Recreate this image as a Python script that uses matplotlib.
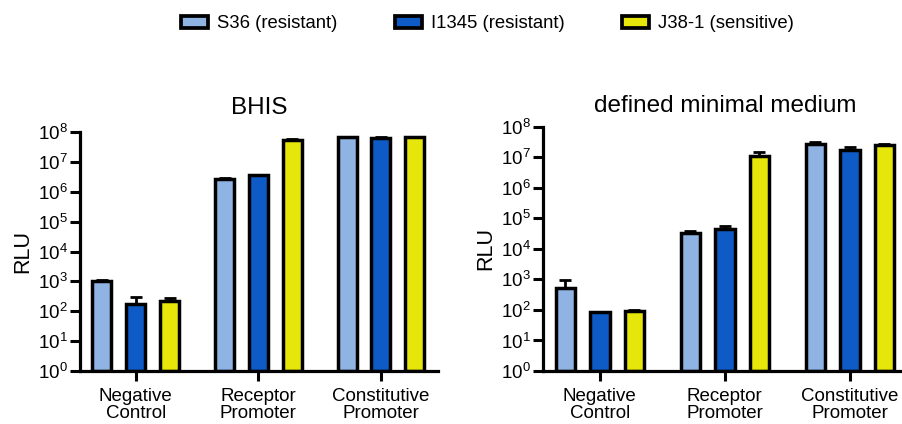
import matplotlib
matplotlib.use("agg")
import matplotlib.pyplot as plt
import numpy as np
from matplotlib.patches import Patch

plt.rcParams['font.family'] = ['Liberation Sans', 'DejaVu Sans']
plt.rcParams['mathtext.fontset'] = 'custom'
plt.rcParams['mathtext.rm'] = 'Liberation Sans'
plt.rcParams['mathtext.default'] = 'regular'

#### data ####
groups = ["Negative\nControl", "Receptor\nPromoter", "Constitutive\nPromoter"]
strains = ["S36 (resistant)", "I1345 (resistant)", "J38-1 (sensitive)"]
colors = ["#8fb3e3", "#0e5bc8", "#e6e60a"]

# BHIS
bhis_s36 = [1050, 2.6e6, 6.6e7]
bhis_s36_err = [60, 2e5, 3e6]
bhis_i1345 = [180, 3.5e6, 6.5e7]
bhis_i1345_err = [130, 2e5, 3e6]
bhis_j38 = [215, 5.6e7, 6.6e7]
bhis_j38_err = [65, 1e6, 3e6]

# defined minimal medium
dmm_s36 = [515, 3.4e4, 2.8e7]
dmm_s36_err = [450, 4000, 4e6]
dmm_i1345 = [84, 4.5e4, 1.77e7]
dmm_i1345_err = [4, 1.2e4, 4.5e6]
dmm_j38 = [93, 1.07e7, 2.5e7]
dmm_j38_err = [6, 4e6, 2.5e6]

fig = plt.figure(figsize=(9.03, 4.24), dpi=100)
ax1 = fig.add_axes([80/903, 1-371/424, (438-80)/903, (371-132)/424])
ax2 = fig.add_axes([543/903, 1-371/424, (908-543)/903, (371-126.7)/424])

def draw(ax, title, series, errs, tpad):
    x = np.arange(len(groups))
    offs = [-0.276, 0, 0.276]
    for vals, err, c, o in zip(series, errs, colors, offs):
        vals = np.array(vals)
        ax.bar(x + o, vals - 1, bottom=1, width=0.155, color=c,
               edgecolor='black', linewidth=2.5, zorder=2)
        ax.errorbar(x + o, vals, yerr=[np.zeros(len(vals)), err], fmt='none',
                    ecolor='black', elinewidth=2, capsize=4.2, capthick=2, zorder=1)
    ax.set_yscale('log')
    ax.set_ylim(1, 1e8)
    ax.set_xlim(-0.455, 2.465)
    ax.set_yticks([10.0**k for k in range(9)])
    ax.set_yticklabels(['$10^{%d}$' % k for k in range(9)])
    ax.minorticks_off()
    ax.set_xticks(x)
    ax.set_xticklabels(groups, fontsize=13.5, linespacing=1.0)
    ax.tick_params(axis='y', labelsize=13.5, width=2.2, length=7, pad=2)
    ax.tick_params(axis='x', width=2.2, length=7, pad=5)
    for s in ['top', 'right']:
        ax.spines[s].set_visible(False)
    for s in ['left', 'bottom']:
        ax.spines[s].set_linewidth(2.3)
    ax.set_ylabel("RLU", fontsize=15.5, labelpad=3)
    ax.set_title(title, fontsize=17.5, pad=tpad)

draw(ax1, "BHIS", [bhis_s36, bhis_i1345, bhis_j38],
     [bhis_s36_err, bhis_i1345_err, bhis_j38_err], 13)
draw(ax2, "defined minimal medium", [dmm_s36, dmm_i1345, dmm_j38],
     [dmm_s36_err, dmm_i1345_err, dmm_j38_err], 10.6)

handles = [Patch(facecolor=c, edgecolor='black', linewidth=2.7, label=s)
           for c, s in zip(colors, strains)]
fig.legend(handles=handles, loc='center', bbox_to_anchor=(0.540, 1-24/424),
           ncol=3, frameon=False, fontsize=13.3, handlelength=1.45,
           handleheight=0.65, columnspacing=3.1, handletextpad=0.5)

fig.savefig("out.png", dpi=100)
